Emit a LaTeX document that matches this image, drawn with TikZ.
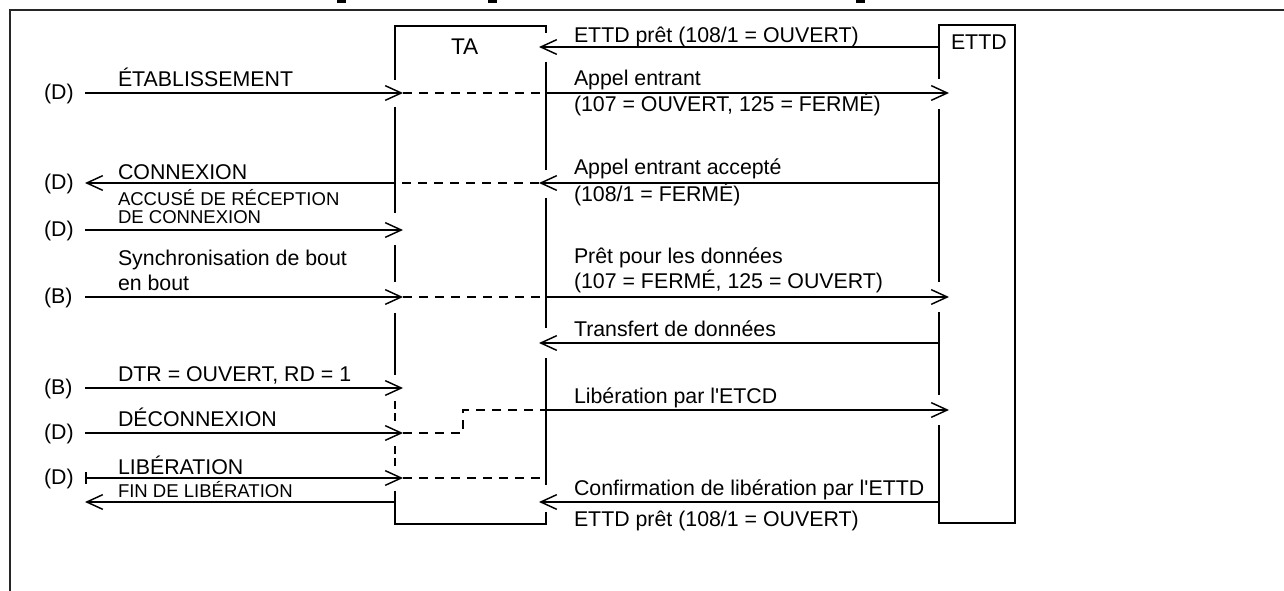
\documentclass[tikz,border=0pt]{standalone}
\usepackage{fontspec}
\setmainfont{Liberation Sans}
\usetikzlibrary{arrows.meta}
\begin{document}
\begin{tikzpicture}[x=0.75pt,y=-0.75pt,line width=1.5pt,
  lbl/.style={anchor=base west,inner sep=0pt,font=\fontsize{16}{18}\selectfont},
  sml/.style={anchor=base west,inner sep=0pt,font=\fontsize{13.9}{15}\selectfont},
  tip/.style={-{Straight Barb[length=12pt,width=11pt,line width=1.1pt]}},
  bartip/.style={{Bar[width=8.5pt,line width=1.5pt]}-{Straight Barb[length=12pt,width=11pt,line width=1.1pt]}},
  dsh/.style={dash pattern=on 7pt off 5pt},
  vdsh/.style={dash pattern=on 6pt off 3pt},
  frame/.style={line width=1.4pt,black!85}]
\useasboundingbox (0,0) rectangle (1284,591);
% outer frame
\draw[frame] (10,591) -- (10,10) -- (1284,10);
% cut-off marks at top
\fill (337,0) rectangle (346,3.5);
\fill (488,0) rectangle (497,3.5);
\fill (856,0) rectangle (865,3.5);
% row coordinates
\foreach \n/\y in {r1/47,r2/93,r3/183,r4/230,r5/297,r6/343,r7/388,r8/410,r9/433,r10/478,r11/502}{
  \coordinate (\n-l) at (85,\y);
  \coordinate (\n-ta) at (395,\y);
  \coordinate (\n-tat) at (403,\y);
  \coordinate (\n-tb) at (546,\y);
  \coordinate (\n-tbt) at (539,\y);
  \coordinate (\n-e) at (939,\y);
  \coordinate (\n-et) at (949,\y);
}
\coordinate (stepA) at (463,433);
\coordinate (stepB) at (463,410);
% TA box
\draw (395,80) -- (395,26) -- (546,26) -- (546,33);
\draw (395,107) -- (395,213);
\draw (395,245) -- (395,282);
\draw (395,313) -- (395,375);
\draw[vdsh] (395,401) -- (395,421);
\draw[vdsh] (395,446) -- (395,466);
\draw (395,491) -- (395,524) -- (546,524) -- (546,512);
\draw (546,62) -- (546,170);
\draw (546,198) -- (546,328);
\draw (546,358) -- (546,485);
\node[lbl,font=\fontsize{17}{18}\selectfont] (ta) at (450,55) {TA};
% ETTD box
\draw (939,79) -- (939,25) -- (1015,25) -- (1015,523) -- (939,523) -- (939,425);
\draw (939,109) -- (939,282);
\draw (939,312) -- (939,395);
\node[lbl] (ettd) at (950,50) {ETTD};
% messages
\draw[tip] (r1-e) -- (r1-tbt);
\draw[tip] (r2-l) -- (r2-tat);
\draw[dsh] (r2-tat) -- (r2-tb);
\draw[tip] (r2-tb) -- (r2-et);
\draw[tip] (r3-e) -- (r3-tbt);
\draw[dsh] (r3-tbt) -- (r3-ta);
\draw[tip] (r3-ta) -- (r3-l);
\draw[tip] (r4-l) -- (r4-tat);
\draw[tip] (r5-l) -- (r5-tat);
\draw[dsh] (r5-tat) -- (r5-tb);
\draw[tip] (r5-tb) -- (r5-et);
\draw[tip] (r6-e) -- (r6-tbt);
\draw[tip] (r7-l) -- (r7-tat);
\draw[tip] (r8-tb) -- (r8-et);
\draw[tip] (r9-l) -- (r9-tat);
\draw[dsh] (r9-tat) -- (stepA) -- (stepB) -- (r8-tb);
\draw[bartip] (r10-l) -- (r10-tat);
\draw[dsh] (r10-tat) -- (r10-tb);
\draw[tip] (r11-e) -- (r11-tbt);
\draw[tip] (r11-ta) -- (r11-l);
% left labels
\foreach \n/\t/\y in {d1/D/93,d2/D/183,d3/D/230,b1/B/297,b2/B/388,d4/D/433,d5/D/478}{
  \node[lbl] (\n) at (43,\y+6.5) {(\t)};
}
% message labels left
\node[lbl] (m1) at (117,87) {ÉTABLISSEMENT};
\node[lbl] (m2) at (117,180) {CONNEXION};
\node[sml] (m3) at (117,206) {ACCUSÉ DE RÉCEPTION};
\node[sml] (m4) at (117,223.5) {DE CONNEXION};
\node[lbl] (m5) at (117,266) {Synchronisation de bout};
\node[lbl] (m6) at (117,291) {en bout};
\node[lbl] (m7) at (117,381.5) {DTR = OUVERT, RD = 1};
\node[lbl] (m8) at (117,426.5) {DÉCONNEXION};
\node[lbl] (m9) at (117,474.5) {LIBÉRATION};
\node[sml] (m10) at (117,497) {FIN DE LIBÉRATION};
% message labels right
\node[lbl] (n1) at (573,42.5) {ETTD prêt (108/1 = OUVERT)};
\node[lbl] (n2) at (573,86) {Appel entrant};
\node[lbl] (n3) at (573,111.5) {(107 = OUVERT, 125 = FERMÉ)};
\node[lbl] (n4) at (573,175) {Appel entrant accepté};
\node[lbl] (n5) at (573,202) {(108/1 = FERMÉ)};
\node[lbl] (n6) at (573,264) {Prêt pour les données};
\node[lbl] (n7) at (573,289) {(107 = FERMÉ, 125 = OUVERT)};
\node[lbl] (n8) at (573,336) {Transfert de données};
\node[lbl] (n9) at (573,403) {Libération par l\textquotesingle ETCD};
\node[lbl] (n10) at (573,495) {Confirmation de libération par l\textquotesingle ETTD};
\node[lbl] (n11) at (573,526) {ETTD prêt (108/1 = OUVERT)};
\end{tikzpicture}
\end{document}
